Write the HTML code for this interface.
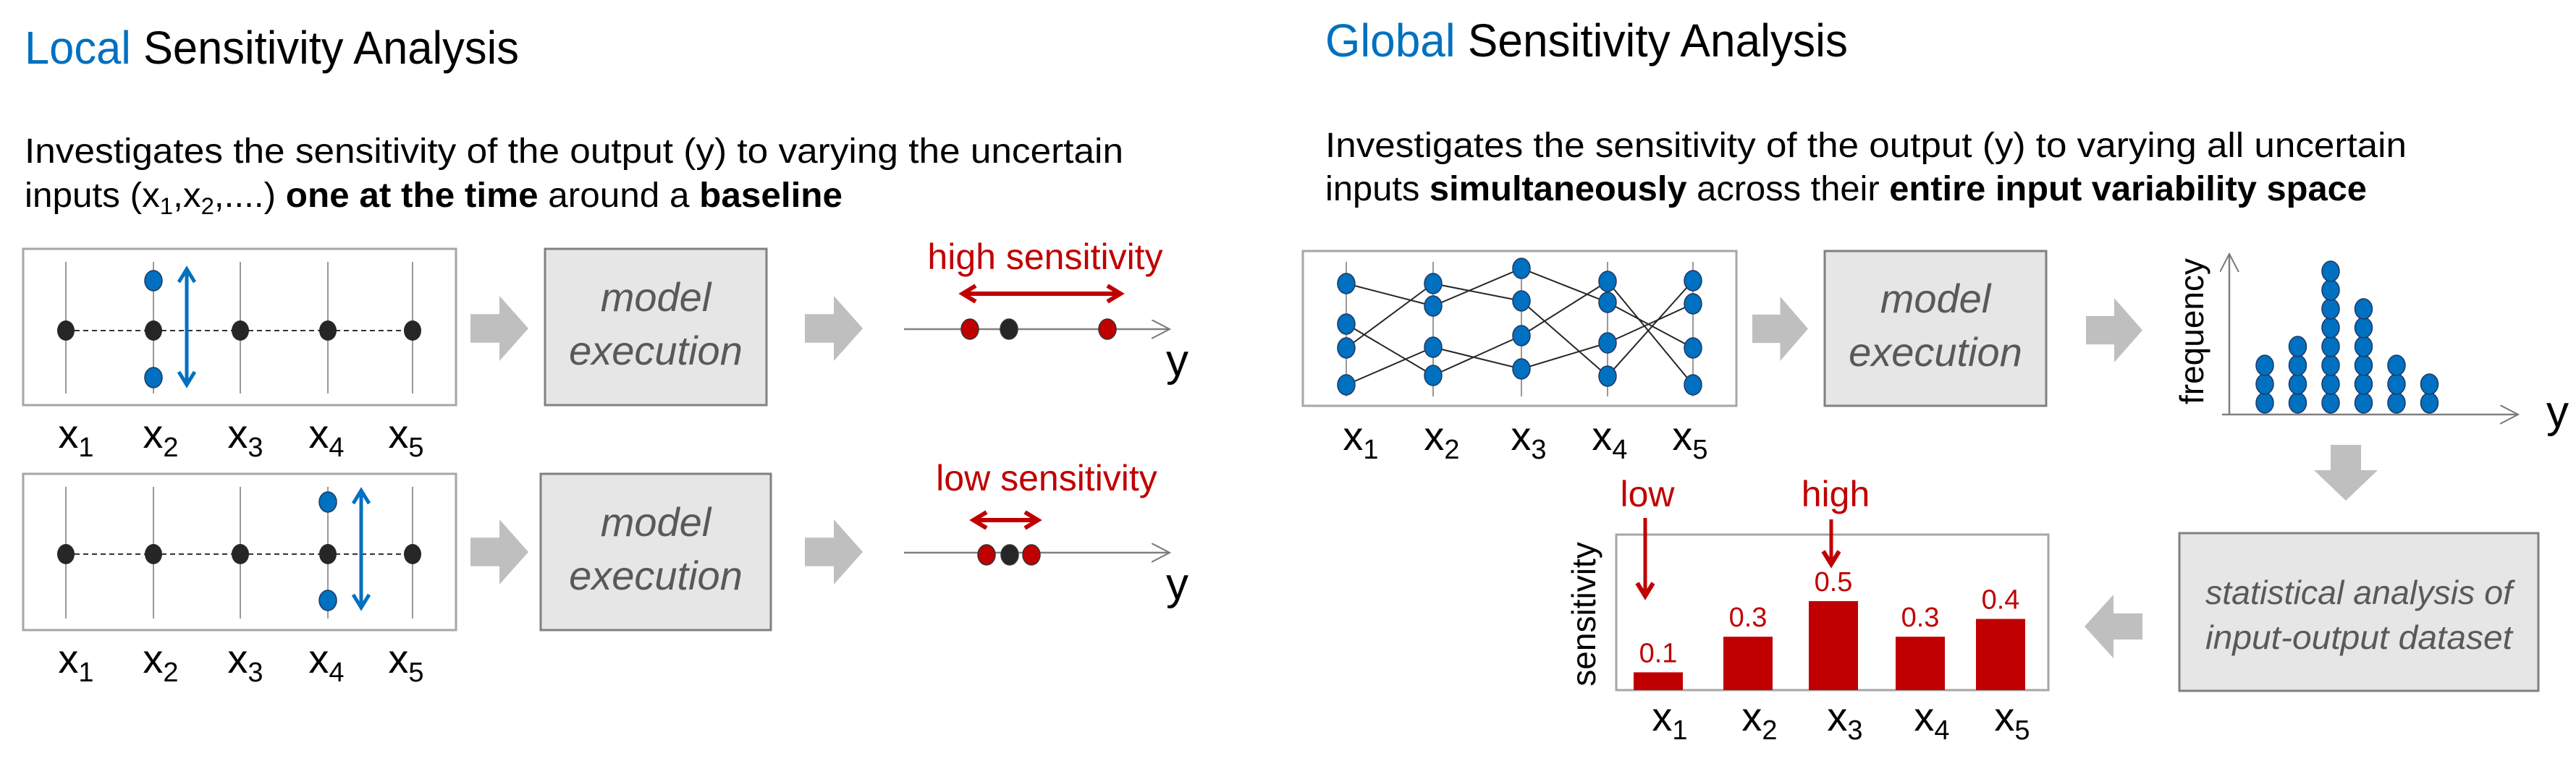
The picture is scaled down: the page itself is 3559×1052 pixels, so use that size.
<!DOCTYPE html>
<html><head><meta charset="utf-8"><style>
html,body{margin:0;padding:0;background:#fff;}
svg{display:block;font-family:"Liberation Sans Narrow","Liberation Sans",sans-serif;}
</style></head><body>
<svg id="s" width="3559" height="1052" viewBox="0 0 3559 1052" xmlns="http://www.w3.org/2000/svg">
<defs>
<marker id="ab" markerWidth="30" markerHeight="30" refX="20" refY="13" orient="auto-start-reverse" markerUnits="userSpaceOnUse"><path d="M2,2 L20,13 L2,24" fill="none" stroke="#0070c0" stroke-width="5"/></marker>
<marker id="ar" markerWidth="30" markerHeight="30" refX="20" refY="13" orient="auto-start-reverse" markerUnits="userSpaceOnUse"><path d="M2,2 L20,13 L2,24" fill="none" stroke="#c00000" stroke-width="6"/></marker>
<marker id="ag" markerWidth="30" markerHeight="30" refX="24" refY="13" orient="auto" markerUnits="userSpaceOnUse"><path d="M0,0 L25,13 L0,26" fill="none" stroke="#777" stroke-width="2"/></marker>
</defs>
<text x="34" y="88" font-size="64" textLength="683" lengthAdjust="spacingAndGlyphs"><tspan fill="#0070c0">Local</tspan> Sensitivity Analysis</text>
<text x="34" y="225" font-size="48" textLength="1518" lengthAdjust="spacingAndGlyphs">Investigates the sensitivity of the output (y) to varying the uncertain</text>
<text x="34" y="286" font-size="48" textLength="1130" lengthAdjust="spacingAndGlyphs">inputs (x<tspan font-size="32" dy="10">1</tspan><tspan dy="-10">,x</tspan><tspan font-size="32" dy="10">2</tspan><tspan dy="-10">,....) </tspan><tspan font-weight="bold">one at the time</tspan> around a <tspan font-weight="bold">baseline</tspan></text>
<text x="1831" y="78" font-size="64" textLength="722" lengthAdjust="spacingAndGlyphs"><tspan fill="#0070c0">Global</tspan> Sensitivity Analysis</text>
<text x="1831" y="217" font-size="48" textLength="1494" lengthAdjust="spacingAndGlyphs">Investigates the sensitivity of the output (y) to varying all uncertain</text>
<text x="1831" y="277" font-size="48" textLength="1439" lengthAdjust="spacingAndGlyphs">inputs <tspan font-weight="bold">simultaneously</tspan> across their <tspan font-weight="bold">entire input variability space</tspan></text>
<g id="g"></g>
</svg>
<script>
// bar chart data
const barCategories = ["1","2","3","4","5"];
const barValues = [0.1, 0.3, 0.5, 0.3, 0.4];
const barLabels = ["0.1","0.3","0.5","0.3","0.4"];
// histogram data
const histCounts = [3,4,8,6,3,2];

const NS="http://www.w3.org/2000/svg";
const G=document.getElementById('g');
function mk(tag,attrs,parent){const e=document.createElementNS(NS,tag);for(const k in attrs)e.setAttribute(k,attrs[k]);(parent||G).appendChild(e);return e;}
function txt(x,y,s,attrs){const e=mk('text',Object.assign({x:x,y:y},attrs||{}));e.textContent=s;return e;}
function xlabel(x,y,n){const t=mk('text',{x:x,y:y,'font-size':56,'text-anchor':'middle'});t.textContent='x';const ts=mk('tspan',{'font-size':38,dy:12},t);ts.textContent=n;return t;}
function grayArrowRight(x0,y0,x1,y1){const ym=(y0+y1)/2,h=y1-y0;const p=mk('polygon',{points:`${x0},${ym-h*0.22} ${x0+(x1-x0)*0.5},${ym-h*0.22} ${x0+(x1-x0)*0.5},${y0} ${x1},${ym} ${x0+(x1-x0)*0.5},${y1} ${x0+(x1-x0)*0.5},${ym+h*0.22} ${x0},${ym+h*0.22}`,fill:'#bfbfbf'});return p;}
function modelBox(x,y,w,h,name){const r=mk('rect',{x:x,y:y,width:w,height:h,fill:'#e6e6e6',stroke:'#808080','stroke-width':3});
 txt(x+w/2,y+h/2-22,'model',{'font-size':56,'font-style':'italic',fill:'#595959','text-anchor':'middle'});
 txt(x+w/2,y+h/2+52,'execution',{'font-size':56,'font-style':'italic',fill:'#595959','text-anchor':'middle'});}
const colX=[91,212,332,453,570];
// Local rows
[[344,457,1,388,522,258],[655,766,3,694,830,499]].forEach((row,ri)=>{
 const [top,by,vi,bt,bb,ax]=row;
 const box=mk('rect',{x:32,y:top,width:598,height:216,fill:'#fff',stroke:'#a6a6a6','stroke-width':3});
 
 
 colX.forEach(x=>mk('line',{x1:x,y1:top+18,x2:x,y2:top+200,stroke:'#999','stroke-width':2}));
 mk('line',{x1:colX[0],y1:by,x2:colX[4],y2:by,stroke:'#333','stroke-width':2,'stroke-dasharray':'7,5'});
 colX.forEach(x=>mk('ellipse',{cx:x,cy:by,rx:12,ry:14,fill:'#262626'}));
 mk('ellipse',{cx:colX[vi],cy:bt,rx:12,ry:14,fill:'#0070c0',stroke:'#1f3864','stroke-width':1.5});
 mk('ellipse',{cx:colX[vi],cy:bb,rx:12,ry:14,fill:'#0070c0',stroke:'#1f3864','stroke-width':1.5});
 const a=mk('line',{x1:ax,y1:bt-16,x2:ax,y2:bb+10,stroke:'#0070c0','stroke-width':5,'marker-end':'url(#ab)','marker-start':'url(#ab)'});
 
 
 [105,222,339,451,561].forEach((x,i)=>xlabel(x,top+275,String(i+1)));
 grayArrowRight(650,by-48,730,by+42);
 modelBox(ri?747:753,top,ri?318:306,216,'model-execution-box-'+(ri+1));
 grayArrowRight(1112,by-48,1192,by+42);
 mk('line',{x1:1249,y1:by-2,x2:1615,y2:by-2,stroke:'#808080','stroke-width':2.5,'marker-end':'url(#ag)'});
 txt(1611,by+62,'y',{'font-size':62});
});
txt(1444,372,'high sensitivity',{'font-size':50,fill:'#c00000','text-anchor':'middle'});
mk('line',{x1:1330,y1:406,x2:1548,y2:406,stroke:'#c00000','stroke-width':6,'marker-end':'url(#ar)','marker-start':'url(#ar)'});
[[1340,'#c00000'],[1394,'#262626'],[1530,'#c00000']].forEach(d=>mk('ellipse',{cx:d[0],cy:455,rx:12,ry:14,fill:d[1],stroke:'#333','stroke-width':1.5}));
txt(1446,678,'low sensitivity',{'font-size':50,fill:'#c00000','text-anchor':'middle'});
mk('line',{x1:1345,y1:719,x2:1434,y2:719,stroke:'#c00000','stroke-width':6,'marker-end':'url(#ar)','marker-start':'url(#ar)'});
[[1363,'#c00000'],[1395,'#262626'],[1425,'#c00000']].forEach(d=>mk('ellipse',{cx:d[0],cy:767,rx:12,ry:14,fill:d[1],stroke:'#333','stroke-width':1.5}));

// Global input box
const gx=[1860,1980,2102,2221,2339];
const gy=[[392,448,481,532],[392,423,480,519],[371,416,464,510],[389,418,474,520],[388,420,481,532]];
const links=[[[0,1],[1,3],[2,0],[3,2]],[[0,1],[1,0],[2,3],[3,2]],[[0,1],[1,3],[2,0],[3,2]],[[0,3],[1,2],[2,1],[3,0]]];
const gb=mk('rect',{x:1800,y:347,width:599,height:214,fill:'#fff',stroke:'#a6a6a6','stroke-width':3});


gx.forEach(x=>mk('line',{x1:x,y1:362,x2:x,y2:548,stroke:'#999','stroke-width':2}));
links.forEach((l,c)=>l.forEach(p=>mk('line',{x1:gx[c],y1:gy[c][p[0]],x2:gx[c+1],y2:gy[c+1][p[1]],stroke:'#262626','stroke-width':2})));
gy.forEach((ys,c)=>ys.forEach(y=>mk('ellipse',{cx:gx[c],cy:y,rx:12,ry:14,fill:'#0070c0',stroke:'#1f3864','stroke-width':1.5})));
[1880,1992,2112,2224,2335].forEach((x,i)=>xlabel(x,622,String(i+1)));
grayArrowRight(2421,410,2498,499);
modelBox(2521,347,306,214,'global-model-execution-box');
grayArrowRight(2882,412,2960,501);

// Histogram
mk('line',{x1:3080,y1:573,x2:3080,y2:352,stroke:'#808080','stroke-width':2.5,'marker-end':'url(#ag)'});
mk('line',{x1:3070,y1:573,x2:3478,y2:573,stroke:'#808080','stroke-width':2.5,'marker-end':'url(#ag)'});
const hf=txt(0,0,'frequency',{'font-size':46,'text-anchor':'middle',transform:'translate(3044,458) rotate(-90)'});


txt(3518,590,'y',{'font-size':62});
const hx0=3129,hdx=45.5,hdy=26,hbase=557;
histCounts.forEach((n,c)=>{for(let k=0;k<n;k++){const e=mk('ellipse',{cx:hx0+c*hdx,cy:hbase-k*hdy,rx:12,ry:14,fill:'#0070c0',stroke:'#1f3864','stroke-width':1.5});
 
 }});
// down arrow
mk('polygon',{points:'3220,615 3262,615 3262,650 3285,650 3241,692 3197,650 3220,650',fill:'#bfbfbf'});
// stats box
const sb=mk('rect',{x:3011,y:737,width:496,height:218,fill:'#e6e6e6',stroke:'#808080','stroke-width':3});


txt(3259,835,'statistical analysis of',{'font-size':46,'font-style':'italic',fill:'#595959','text-anchor':'middle',textLength:424,lengthAdjust:'spacingAndGlyphs'});
txt(3259,897,'input-output dataset',{'font-size':46,'font-style':'italic',fill:'#595959','text-anchor':'middle',textLength:424,lengthAdjust:'spacingAndGlyphs'});
// left arrow
mk('polygon',{points:'2960,848 2920,848 2920,822 2880,866 2920,910 2920,884 2960,884',fill:'#bfbfbf'});

// Bar chart
const bx0=2233,bx1=2830,btop=739,bbot=954;
const bcx=[2291,2415,2533,2653,2764];
const yScale=v=>bbot-v*246;
const bc=mk('rect',{x:bx0,y:btop,width:bx1-bx0,height:bbot-btop,fill:'#fff',stroke:'#a6a6a6','stroke-width':3});


barValues.forEach((v,i)=>{
 const b=mk('rect',{x:bcx[i]-34,y:yScale(v),width:68,height:bbot-yScale(v),fill:'#c00000'});
 
 
 txt(bcx[i],yScale(v)-14,barLabels[i],{'font-size':38,fill:'#c00000','text-anchor':'middle'});
 xlabel(bcx[i]+16,1010,barCategories[i]);
});
const st=txt(0,0,'sensitivity',{'font-size':46,'text-anchor':'middle',transform:'translate(2204,849) rotate(-90)'});


txt(2276,700,'low',{'font-size':50,fill:'#c00000','text-anchor':'middle'});
mk('line',{x1:2273,y1:716,x2:2273,y2:824,stroke:'#c00000','stroke-width':5,'marker-end':'url(#ar)'});
txt(2536,700,'high',{'font-size':50,fill:'#c00000','text-anchor':'middle'});
mk('line',{x1:2530,y1:718,x2:2530,y2:780,stroke:'#c00000','stroke-width':5,'marker-end':'url(#ar)'});
</script>
</body></html>
